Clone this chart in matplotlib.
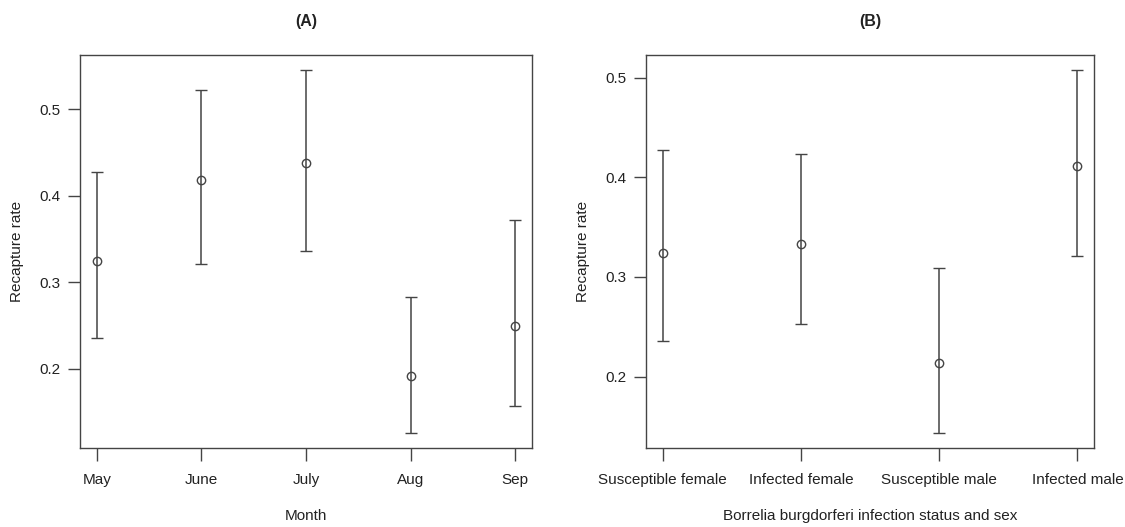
import matplotlib
matplotlib.use("Agg")
import matplotlib.pyplot as plt

# Panel A data
months = ["May", "June", "July", "Aug", "Sep"]
month_mean = [0.324, 0.418, 0.438, 0.192, 0.249]
month_lower = [0.236, 0.321, 0.336, 0.125, 0.157]
month_upper = [0.427, 0.522, 0.546, 0.283, 0.372]

# Panel B data
groups = ["Susceptible female", "Infected female", "Susceptible male", "Infected male"]
group_mean = [0.324, 0.333, 0.214, 0.411]
group_lower = [0.236, 0.253, 0.143, 0.321]
group_upper = [0.427, 0.423, 0.309, 0.508]

yticks = [0.2, 0.3, 0.4, 0.5]

plt.rcParams['font.family'] = ['Liberation Sans', 'DejaVu Sans']
col = "#444444"
txt = "#222222"

fig = plt.figure(figsize=(11.25, 5.27), dpi=100)
axA = fig.add_axes([80/1125, 79/527, 452/1125, 393/527])
axB = fig.add_axes([646/1125, 79/527, 448/1125, 393/527])


def panel(ax, labels, mean, lower, upper, title, xlabel):
    n = len(labels)
    x = list(range(1, n + 1))
    yerr = [[m - l for m, l in zip(mean, lower)], [u - m for m, u in zip(mean, upper)]]
    ax.errorbar(x, mean, yerr=yerr, fmt='o', mfc='none', mec=col, ms=6, mew=1.0,
                ecolor=col, elinewidth=1.1, capsize=4.4, capthick=1.1, color=col)
    lo = min(lower); hi = max(upper); r = hi - lo
    ax.set_ylim(lo - 0.04 * r, hi + 0.04 * r)
    ax.set_xlim(1 - 0.04 * (n - 1), n + 0.04 * (n - 1))
    ax.set_xticks(x)
    ax.set_xticklabels(labels)
    ax.set_yticks(yticks)
    ax.set_yticklabels([f"{v:.1f}" for v in yticks])
    ax.tick_params(axis='both', direction='out', length=9, width=1.0, color=col,
                   labelsize=11, labelcolor=txt)
    ax.tick_params(axis='x', pad=9)
    ax.tick_params(axis='y', pad=5)
    for s in ax.spines.values():
        s.set_color(col)
        s.set_linewidth(1.0)
    ax.set_title(title, fontsize=11.5, fontweight='bold', pad=21, color=txt)
    ax.set_xlabel(xlabel, fontsize=11, labelpad=16, color=txt)
    ax.set_ylabel("Recapture rate", fontsize=11, labelpad=11, color=txt)


panel(axA, months, month_mean, month_lower, month_upper, "(A)", "Month")
panel(axB, groups, group_mean, group_lower, group_upper, "(B)",
      "Borrelia burgdorferi infection status and sex")

fig.savefig("out.png", dpi=100, facecolor="white")
